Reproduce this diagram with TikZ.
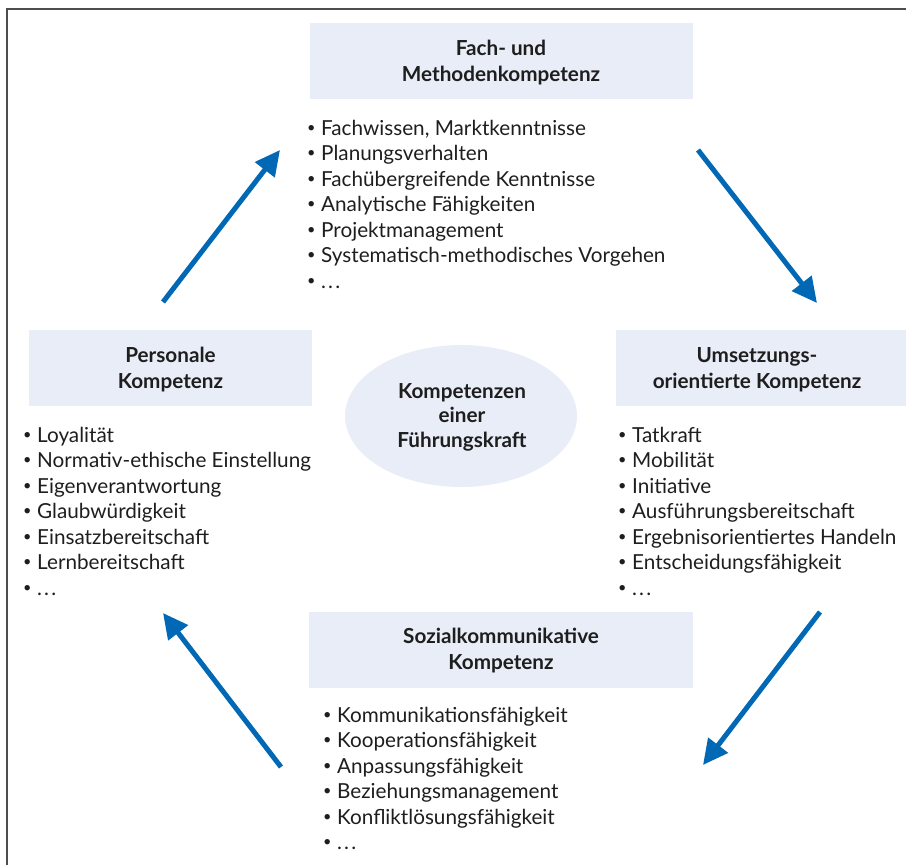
\documentclass[tikz,border=0pt]{standalone}
\usepackage{fontspec}
\setmainfont{Lato}
\usetikzlibrary{arrows.meta,shapes.geometric}
\definecolor{boxfill}{HTML}{E8EDF8}
\definecolor{arrowblue}{HTML}{0068B4}
\definecolor{txt}{HTML}{1E1E1E}
\definecolor{framegray}{HTML}{4D4D4D}
\newcommand\itm[1]{\makebox[14pt][l]{\raisebox{0.13em}{\scalebox{0.7}{\textbullet}}}#1}
\newcommand\mydots{\makebox[19pt][s]{.\hfill.\hfill.}}
\begin{document}
\begin{tikzpicture}[x=1pt,y=-1pt,
  headbox/.style={fill=boxfill, draw=none, inner sep=0pt},
  headtext/.style={font=\fontsize{20.7}{25.5}\selectfont\bfseries, text=txt, align=center, anchor=base, inner sep=0pt},
  listtext/.style={font=\fontsize{20.7}{25.5}\selectfont, text=txt, align=left, anchor=base west, inner sep=0pt},
  flow/.style={draw=arrowblue, line width=5pt, -{Triangle[length=25pt,width=24pt,fill=arrowblue]}}]
\useasboundingbox (0,0) rectangle (906,865);
\clip (0,0) rectangle (906,865);
\draw[framegray, line width=1.5pt] (7,9) rectangle (930,890);

% head boxes
\node[headbox, minimum width=383pt, minimum height=76pt] (fachbox) at (501,61) {};
\node[headbox, minimum width=283pt, minimum height=76pt] (persbox) at (170.5,368) {};
\node[headbox, minimum width=300pt, minimum height=76pt] (umsbox) at (766,368) {};
\node[headbox, minimum width=384pt, minimum height=76pt] (sozbox) at (501,650) {};
\node[ellipse, fill=boxfill, minimum width=232pt, minimum height=142pt, inner sep=0pt] (mitte) at (461,416) {};

% headings (anchor = baseline of last line)
\node[headtext] (fachhead) at (501,81) {Fach- und\\Methodenkompetenz};
\node[headtext] (globalpers) at (170.5,388) {Personale\\Kompetenz};
\node[headtext] (umshead) at (757,388) {Umsetzungs-\\orientierte Kompetenz};
\node[headtext] (sozhead) at (501,669) {Sozialkommunikative\\Kompetenz};
\node[headtext, font=\fontsize{20.7}{24.5}\selectfont\bfseries] (mittetext) at (462,447) {Kompetenzen\\einer\\Führungskraft};

% lists (anchor = baseline of last line)
\node[listtext] (fachlist) at (307,288) {\itm{Fachwissen, Marktkenntnisse}\\\itm{Planungsverhalten}\\\itm{Fachübergreifende Kenntnisse}\\\itm{Analytische Fähigkeiten}\\\itm{Projektmanagement}\\\itm{Systematisch-methodisches Vorgehen}\\\itm{\mydots}};
\node[listtext] (perslist) at (23,595) {\itm{Loyalität}\\\itm{Normativ-ethische Einstellung}\\\itm{Eigenverantwortung}\\\itm{Glaubwürdigkeit}\\\itm{Einsatzbereitschaft}\\\itm{Lernbereitschaft}\\\itm{\mydots}};
\node[listtext] (umslist) at (618,595) {\itm{Tatkraft}\\\itm{Mobilität}\\\itm{Initiative}\\\itm{Ausführungsbereitschaft}\\\itm{Ergebnisorientiertes Handeln}\\\itm{Entscheidungsfähigkeit}\\\itm{\mydots}};
\node[listtext] (sozlist) at (323,849.5) {\itm{Kommunikationsfähigkeit}\\\itm{Kooperationsfähigkeit}\\\itm{Anpassungsfähigkeit}\\\itm{Beziehungsmanagement}\\\itm{Konfliktlösungsfähigkeit}\\\itm{\mydots}};

% arrows
\coordinate (a1s) at (163,302); \coordinate (a1e) at (280,150);
\coordinate (a2s) at (698,150); \coordinate (a2e) at (817,303);
\coordinate (a3s) at (820,612); \coordinate (a3e) at (703,765);
\coordinate (a4s) at (281,767); \coordinate (a4e) at (163,613);
\draw[flow] (a1s) -- (a1e);
\draw[flow] (a2s) -- (a2e);
\draw[flow] (a3s) -- (a3e);
\draw[flow] (a4s) -- (a4e);
\end{tikzpicture}
\end{document}
